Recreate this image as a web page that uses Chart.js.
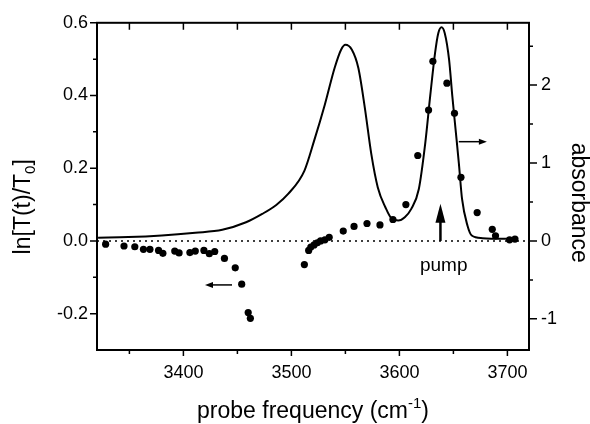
<!DOCTYPE html>
<html>
<head>
<meta charset="utf-8">
<script src="https://cdn.jsdelivr.net/npm/chart.js@4.4.1/dist/chart.umd.min.js"></script>
<style>
  body { margin: 0; background: #fff; }
</style>
</head>
<body>
<canvas id="spectrum" width="590" height="424"></canvas>
<script>
// transient signal ln[T(t)/T0] (left axis)
const dotFreq = [3328, 3345, 3355, 3363, 3369, 3377, 3381, 3392, 3396, 3406, 3411, 3419, 3424, 3429, 3438, 3448, 3454, 3460, 3462,
  3512, 3516, 3518, 3521, 3524, 3527, 3531, 3535, 3548, 3558, 3570, 3582, 3594, 3606,
  3617, 3627, 3631, 3644, 3651, 3657, 3672, 3686, 3689, 3702, 3707];
const dotSignal = [-0.009, -0.014, -0.016, -0.023, -0.023, -0.026, -0.034, -0.028, -0.033, -0.032, -0.028, -0.026, -0.035, -0.029, -0.048, -0.074, -0.119, -0.197, -0.213,
  -0.065, -0.026, -0.017, -0.011, -0.005, 0.000, 0.003, 0.010, 0.027, 0.040, 0.048, 0.044, 0.059, 0.100,
  0.235, 0.360, 0.494, 0.434, 0.351, 0.175, 0.078, 0.032, 0.014, 0.003, 0.005];

// absorbance spectrum (right axis)
const absFreq = [3321, 3349, 3380, 3411, 3436, 3458, 3473, 3486, 3497, 3512, 3521, 3531, 3540, 3546, 3550, 3556, 3562, 3568, 3574, 3580,
  3587, 3593, 3599, 3605, 3611, 3618, 3624, 3628.5, 3633, 3636, 3639, 3642, 3646, 3649, 3652, 3655, 3658, 3663, 3667, 3677, 3695, 3707];
const absValue = [0.041, 0.049, 0.070, 0.105, 0.143, 0.240, 0.347, 0.462, 0.603, 0.900, 1.284, 1.752, 2.220, 2.455, 2.519, 2.455, 2.220, 1.709, 1.114, 0.687,
  0.432, 0.284, 0.262, 0.304, 0.411, 0.667, 1.262, 1.858, 2.411, 2.667, 2.743, 2.667, 2.327, 1.858, 1.433, 1.006, 0.539, 0.198, 0.070, 0.036, 0.028, 0.028];

const xMajorTicks = [3400, 3500, 3600, 3700];
const xMinorTicks = [3350, 3450, 3550, 3650];
const leftMajorTicks = [-0.2, 0, 0.2, 0.4, 0.6];
const leftMinorTicks = [-0.1, 0.1, 0.3, 0.5];
const rightMajorTicks = [-1, 0, 1, 2];
const rightMinorTicks = [-0.5, 0.5, 1.5, 2.5];

const FONT = "'Liberation Sans', Arial, sans-serif";

function drawRuns(ctx, runs, cx, base, size) {
  // runs: [text, kind] kind = "" | "sub" | "sup"
  const sized = runs.map(([t, kind]) => {
    const s = kind ? size * 0.65 : size;
    ctx.font = s + "px " + FONT;
    return { t, s, w: ctx.measureText(t).width, dy: kind === "sub" ? size * 0.22 : kind === "sup" ? -size * 0.42 : 0 };
  });
  let x = cx - sized.reduce((a, r) => a + r.w, 0) / 2;
  ctx.textAlign = "left";
  ctx.textBaseline = "alphabetic";
  sized.forEach((r) => {
    ctx.font = r.s + "px " + FONT;
    ctx.fillText(r.t, x, base + r.dy);
    x += r.w;
  });
}

function arrow(ctx, x1, y1, x2, y2, head, half) {
  const c = Math.cos(Math.atan2(y2 - y1, x2 - x1));
  const s = Math.sin(Math.atan2(y2 - y1, x2 - x1));
  ctx.beginPath();
  ctx.moveTo(x1, y1);
  ctx.lineTo(x2 - c * head * 0.8, y2 - s * head * 0.8);
  ctx.stroke();
  ctx.beginPath();
  ctx.moveTo(x2, y2);
  ctx.lineTo(x2 - head * c + half * s, y2 - head * s - half * c);
  ctx.lineTo(x2 - head * c - half * s, y2 - head * s + half * c);
  ctx.closePath();
  ctx.fill();
}

const decorations = {
  id: "decorations",
  beforeDatasetsDraw(chart) {
    const { ctx, chartArea: a, scales } = chart;
    const y0 = scales.y.getPixelForValue(0);
    ctx.save();
    ctx.strokeStyle = "#000";
    ctx.lineWidth = 1.5;
    ctx.setLineDash([2, 4]);
    ctx.beginPath();
    ctx.moveTo(a.left, y0);
    ctx.lineTo(a.right, y0);
    ctx.stroke();
    ctx.restore();
  },
  afterDraw(chart) {
    const { ctx, chartArea: a, scales } = chart;
    const x = scales.x, y = scales.y, y1 = scales.y1;
    ctx.save();
    ctx.strokeStyle = "#000";
    ctx.fillStyle = "#000";

    // frame
    ctx.lineWidth = 2;
    ctx.strokeRect(a.left, a.top, a.right - a.left, a.bottom - a.top);

    // tick marks
    ctx.lineWidth = 1.5;
    ctx.beginPath();
    xMajorTicks.concat(xMinorTicks).forEach((v) => {
      const px = x.getPixelForValue(v);
      const len = xMajorTicks.includes(v) ? 6 : 4;
      ctx.moveTo(px, a.bottom);
      ctx.lineTo(px, a.bottom + len);
      ctx.moveTo(px, a.top);
      ctx.lineTo(px, a.top + 7);
    });
    leftMajorTicks.forEach((v) => {
      const py = y.getPixelForValue(v);
      ctx.moveTo(a.left, py);
      ctx.lineTo(a.left - 7, py);
    });
    leftMinorTicks.forEach((v) => {
      const py = y.getPixelForValue(v);
      ctx.moveTo(a.left, py);
      ctx.lineTo(a.left - 4, py);
    });
    rightMajorTicks.forEach((v) => {
      const py = y1.getPixelForValue(v);
      ctx.moveTo(a.right, py);
      ctx.lineTo(a.right + 8, py);
    });
    rightMinorTicks.forEach((v) => {
      const py = y1.getPixelForValue(v);
      ctx.moveTo(a.right, py);
      ctx.lineTo(a.right + 4, py);
    });
    ctx.stroke();

    // arrows
    ctx.lineWidth = 1.5;
    arrow(ctx, x.getPixelForValue(3445), y.getPixelForValue(-0.121), x.getPixelForValue(3420), y.getPixelForValue(-0.121), 8, 3);
    arrow(ctx, x.getPixelForValue(3655), y.getPixelForValue(0.273), x.getPixelForValue(3681), y.getPixelForValue(0.273), 8, 3);
    ctx.lineWidth = 2.5;
    arrow(ctx, x.getPixelForValue(3638), y.getPixelForValue(0), x.getPixelForValue(3638), y.getPixelForValue(0.102), 19, 5);

    // pump label
    drawRuns(ctx, [["pump", ""]], x.getPixelForValue(3641), y.getPixelForValue(-0.084), 19);

    // axis titles
    drawRuns(ctx, [["probe frequency (cm", ""], ["-1", "sup"], [")", ""]], (a.left + a.right) / 2, a.bottom + 68, 23);

    ctx.save();
    ctx.translate(a.left - 67.5, a.top + 184);
    ctx.rotate(-Math.PI / 2);
    drawRuns(ctx, [["ln[T(t)/T", ""], ["0", "sub"], ["]", ""]], 0, 0, 23);
    ctx.restore();

    ctx.save();
    ctx.translate(a.right + 43, a.top + 180);
    ctx.rotate(Math.PI / 2);
    drawRuns(ctx, [["absorbance", ""]], 0, 0, 23);
    ctx.restore();

    ctx.restore();
  },
};

const tickFont = { family: FONT, size: 18 };

new Chart(document.getElementById("spectrum"), {
  type: "scatter",
  data: {
    datasets: [
      {
        label: "ln[T(t)/T0]",
        data: dotFreq.map((f, i) => ({ x: f, y: dotSignal[i] })),
        yAxisID: "y",
        pointRadius: 3.6,
        pointBackgroundColor: "#000",
        pointBorderWidth: 0,
        order: 0,
      },
      {
        label: "absorbance",
        data: absFreq.map((f, i) => ({ x: f, y: absValue[i] })),
        yAxisID: "y1",
        showLine: true,
        pointRadius: 0,
        borderColor: "#000",
        borderWidth: 2,
        cubicInterpolationMode: "monotone",
        order: 1,
      },
    ],
  },
  options: {
    responsive: false,
    animation: false,
    events: [],
    layout: { padding: { top: 21, left: 0, right: 0, bottom: 0 } },
    plugins: { legend: { display: false }, tooltip: { enabled: false } },
    scales: {
      x: {
        type: "linear",
        position: "bottom",
        min: 3320,
        max: 3720,
        grid: { display: false, drawTicks: false },
        border: { display: false },
        ticks: { color: "#000", font: tickFont, padding: 12, callback: (v) => String(v) },
        afterBuildTicks: (s) => { s.ticks = xMajorTicks.map((v) => ({ value: v })); },
        afterFit: (s) => { s.height = 74; },
      },
      y: {
        type: "linear",
        position: "left",
        min: -0.3,
        max: 0.6,
        grid: { display: false, drawTicks: false },
        border: { display: false },
        ticks: { color: "#000", font: tickFont, padding: 9, callback: (v) => Number(v).toFixed(1) },
        afterBuildTicks: (s) => { s.ticks = leftMajorTicks.map((v) => ({ value: v })); },
        afterFit: (s) => { s.width = 97; },
      },
      y1: {
        type: "linear",
        position: "right",
        min: -1.4,
        max: 2.8,
        grid: { display: false, drawTicks: false },
        border: { display: false },
        ticks: { color: "#000", font: tickFont, padding: 12, callback: (v) => String(v) },
        afterBuildTicks: (s) => { s.ticks = rightMajorTicks.map((v) => ({ value: v })); },
        afterFit: (s) => { s.width = 61; },
      },
    },
  },
  plugins: [decorations],
});
</script>
</body>
</html>
